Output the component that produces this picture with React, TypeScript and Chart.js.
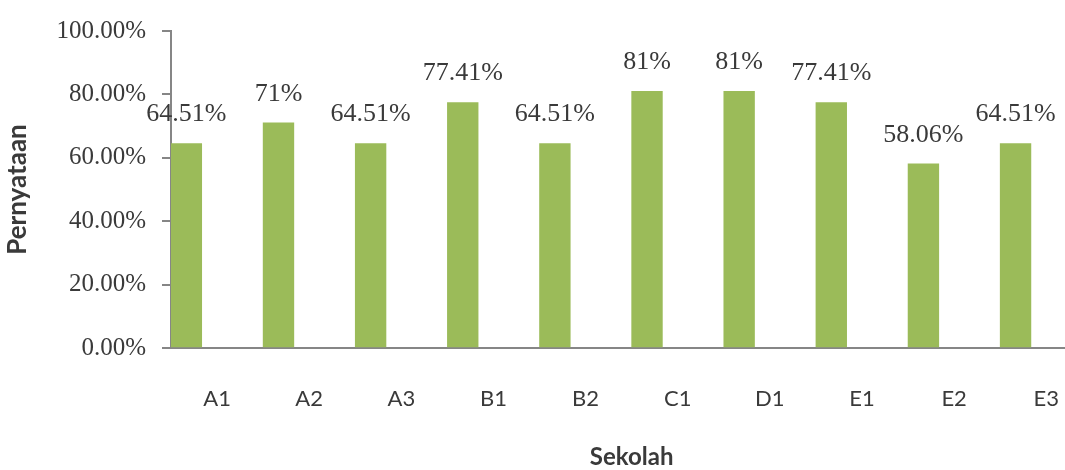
import React, { useEffect, useRef } from "react";
import { Chart, registerables } from "chart.js";

Chart.register(...registerables);

// Schools and the share of statements per school (percent)
const schools = ["A1", "A2", "A3", "B1", "B2", "C1", "D1", "E1", "E2", "E3"];
const pernyataan = [64.51, 71, 64.51, 77.41, 64.51, 81, 81, 77.41, 58.06, 64.51];
const yTicks = [0, 20, 40, 60, 80, 100];

const BAR_GREEN = "#9bbb59";
const AXIS_GREY = "#868686";
const TEXT_DARK = "#3a3a3a";

// Writes each bar's value above it
const valueLabels = {
  id: "valueLabels",
  afterDatasetsDraw(chart: any) {
    const { ctx } = chart;
    const meta = chart.getDatasetMeta(0);
    ctx.save();
    ctx.font = '26px "Liberation Serif"';
    ctx.fillStyle = TEXT_DARK;
    ctx.textAlign = "center";
    ctx.textBaseline = "middle";
    meta.data.forEach((bar: any, i: number) => {
      ctx.fillText(`${pernyataan[i]}%`, bar.x, bar.y - 29);
    });
    ctx.restore();
  },
};

export default function App() {
  const canvasRef = useRef<HTMLCanvasElement | null>(null);

  useEffect(() => {
    const canvas = canvasRef.current;
    if (!canvas) return;
    const chart = new Chart(canvas, {
      type: "bar",
      data: {
        labels: schools,
        datasets: [
          {
            label: "Pernyataan",
            data: pernyataan,
            backgroundColor: BAR_GREEN,
            borderWidth: 0,
          },
          // empty slots that keep each bar at the left of its category
          { label: "", data: [], backgroundColor: "transparent" },
          { label: "", data: [], backgroundColor: "transparent" },
        ],
      },
      options: {
        responsive: false,
        animation: false,
        layout: { padding: { top: 28, right: 0, bottom: 0, left: 0 } },
        datasets: {
          bar: { categoryPercentage: 1, barPercentage: 1 },
        },
        plugins: {
          legend: { display: false },
          tooltip: { enabled: false },
        },
        scales: {
          x: {
            grid: { display: false, drawTicks: false },
            border: { display: true, color: AXIS_GREY, width: 2 },
            ticks: {
              padding: 38,
              color: TEXT_DARK,
              font: { family: "Lato", size: 22 },
            },
            title: {
              display: true,
              text: "Sekolah",
              color: TEXT_DARK,
              font: { family: "Lato", size: 24, weight: "bold", lineHeight: 1 },
              padding: { top: 0, bottom: 1 },
            },
            afterFit(scale: any) {
              scale.height = 122;
            },
          },
          y: {
            min: 0,
            max: 100,
            afterBuildTicks(scale: any) {
              scale.ticks = yTicks.map((v) => ({ value: v }));
            },
            grid: {
              drawOnChartArea: false,
              drawTicks: true,
              tickLength: 9,
              color: AXIS_GREY,
              lineWidth: 2,
            },
            border: { display: true, color: AXIS_GREY, width: 2 },
            ticks: {
              padding: 16,
              color: TEXT_DARK,
              font: { family: "Liberation Serif", size: 25 },
              callback: (v: any) => `${Number(v).toFixed(2)}%`,
            },
            title: {
              display: true,
              text: "Pernyataan",
              color: TEXT_DARK,
              font: { family: "Lato", size: 26, weight: "bold", lineHeight: 1 },
              padding: { top: 5, bottom: 0 },
            },
            afterFit(scale: any) {
              scale.width = 171;
            },
          },
        },
      },
      plugins: [valueLabels],
    });
    return () => chart.destroy();
  }, []);

  return (
    <div
      style={{
        position: "fixed",
        left: 0,
        top: 0,
        width: 1065,
        height: 470,
        overflow: "hidden",
        background: "#fff",
      }}
    >
      <canvas ref={canvasRef} width={1097} height={470} style={{ display: "block" }} />
    </div>
  );
}
